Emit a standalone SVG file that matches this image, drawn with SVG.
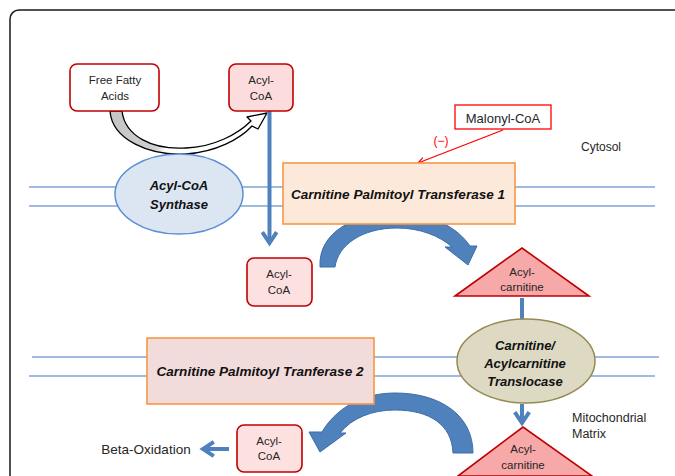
<svg xmlns="http://www.w3.org/2000/svg" width="675" height="476" viewBox="0 0 675 476">
<defs>
<linearGradient id="gw" gradientUnits="userSpaceOnUse" x1="108" y1="0" x2="268" y2="0">
<stop offset="0" stop-color="#c4c4c4"/><stop offset="0.3" stop-color="#d0d0d0"/><stop offset="0.36" stop-color="#ffffff"/><stop offset="1" stop-color="#ffffff"/>
</linearGradient>
<marker id="chev" viewBox="0 0 10 10" refX="7" refY="5" markerWidth="4.5" markerHeight="4.5" orient="auto" markerUnits="strokeWidth">
<polyline points="1,1 7,5 1,9" fill="none" stroke="#4f81bd" stroke-width="2.2"/>
</marker>
<marker id="red" viewBox="0 0 10 10" refX="9" refY="5" markerWidth="8" markerHeight="8" orient="auto" markerUnits="userSpaceOnUse">
<polyline points="1,1 9,5 1,9" fill="none" stroke="#ff0000" stroke-width="1.5"/>
</marker>
</defs>
<style>
text{font-family:"Liberation Sans",Arial,sans-serif;fill:#262626;text-anchor:middle;dominant-baseline:central}
.lbl{font-size:11.5px}
.b{font-weight:bold;font-style:italic;font-size:13px;fill:#111}
.mem{stroke:#7ea3d6;stroke-width:1.6;fill:none}
.box{stroke:#c00000;stroke-width:1.6}
.tri{fill:#f7a8a8;stroke:#c00000;stroke-width:1.6}
.flow{stroke:#4f81bd;stroke-width:4;fill:none}
.blk{fill:#4f81bd;stroke:#3d6da8;stroke-width:1}
</style>
<rect x="10" y="10" width="700" height="500" rx="9" fill="#fff" stroke="#1a1a1a" stroke-width="1.5"/>

<g id="membranes">
<line class="mem" x1="29" y1="187" x2="655" y2="187"/>
<line class="mem" x1="29" y1="206" x2="655" y2="206"/>
<line class="mem" x1="32" y1="357" x2="659" y2="357"/>
<line class="mem" x1="29" y1="376" x2="655" y2="376"/>
</g>

<g id="connectors">
<path d="M110,111 C112,140 150,156 186,154 C216,152 240,139 252,126 L258,129 L267,113 L247,117 L251,121 C238,134 214,147 186,148 C152,150 125,136 122,111 Z" fill="url(#gw)" stroke="#000" stroke-width="1.3" stroke-linejoin="round"/>
<line class="flow" x1="269.5" y1="111" x2="269.5" y2="243" marker-end="url(#chev)"/>
<line x1="503" y1="130" x2="418" y2="163" stroke="#ff0000" stroke-width="1.3" marker-end="url(#red)"/>
<path class="blk" d="M320,267 C318,232 355,213 397,213 C432,213 458,228 470,246 L477,246 L468,265 L445,247 L452,247 C440,236 420,228 397,228 C362,228 338,245 335,267 Z"/>
<line class="flow" x1="522" y1="298" x2="522" y2="328"/>
<line class="flow" x1="522" y1="404" x2="522" y2="423" marker-end="url(#chev)"/>
<path class="blk" d="M473,453 C473,415 440,393 395,393 C360,393 335,410 322,432 L309,432 L320,452 L346,433 L340,433 C352,418 372,410 395,410 C430,410 452,425 453,453 Z"/>
<line class="flow" x1="229" y1="449" x2="203" y2="449" marker-end="url(#chev)"/>
</g>

<g id="ffa">
<rect class="box" x="70" y="64" width="89" height="47" rx="7" fill="#fff"/>
<text class="lbl" x="115" y="80">Free Fatty</text>
<text class="lbl" x="115" y="96">Acids</text>
</g>
<g id="acylcoa1">
<rect class="box" x="229" y="64" width="64" height="47" rx="7" fill="#fcdcdc"/>
<text class="lbl" x="261" y="80">Acyl-</text>
<text class="lbl" x="261" y="96">CoA</text>
</g>
<g id="synthase">
<ellipse cx="179" cy="194" rx="64" ry="40" fill="#dce6f2" stroke="#5b8fd6" stroke-width="1.5"/>
<text class="b" x="179" y="185">Acyl-CoA</text>
<text class="b" x="179" y="204">Synthase</text>
</g>
<g id="cpt1">
<rect x="283" y="163" width="232" height="61" fill="#fde9d9" stroke="#f79646" stroke-width="1.6"/>
<text class="b" x="398" y="194" textLength="214" lengthAdjust="spacingAndGlyphs">Carnitine Palmitoyl Transferase 1</text>
</g>
<g id="malonyl">
<rect x="455" y="105" width="96" height="24" fill="#fff" stroke="#ff0000" stroke-width="1.3"/>
<text x="503" y="118" style="font-size:13px">Malonyl-CoA</text>
<text x="441" y="141" style="font-size:12px;fill:#ff0000">(−)</text>
</g>
<g id="cytosol"><text x="601" y="147" style="font-size:12px">Cytosol</text></g>
<g id="acylcoa2">
<rect class="box" x="247" y="258" width="65" height="48" rx="7" fill="#fde0e0"/>
<text class="lbl" x="279" y="274">Acyl-</text>
<text class="lbl" x="279" y="290">CoA</text>
</g>
<g id="acylcarnitine1">
<polygon class="tri" points="455,296 522,248 589,296"/>
<text class="lbl" x="522" y="272">Acyl-</text>
<text class="lbl" x="522" y="287">carnitine</text>
</g>
<g id="translocase">
<ellipse cx="526" cy="361" rx="69" ry="42" fill="#ddd9c3" stroke="#948a54" stroke-width="1.5"/>
<text class="b" x="525" y="345">Carnitine/</text>
<text class="b" x="525" y="363">Acylcarnitine</text>
<text class="b" x="525" y="381">Translocase</text>
</g>
<g id="cpt2">
<rect x="147" y="338" width="227" height="66" fill="#f2dcdb" stroke="#f79646" stroke-width="1.6"/>
<text class="b" x="260" y="371" textLength="207" lengthAdjust="spacingAndGlyphs">Carnitine Palmitoyl Tranferase 2</text>
</g>
<g id="matrix">
<text x="572" y="418" style="text-anchor:start;font-size:12.5px">Mitochondrial</text>
<text x="572" y="434" style="text-anchor:start;font-size:12.5px">Matrix</text>
</g>
<g id="acylcarnitine2">
<polygon class="tri" points="458,476 523,427 592,476"/>
<text class="lbl" x="523" y="449">Acyl-</text>
<text class="lbl" x="523" y="465">carnitine</text>
</g>
<g id="acylcoa3">
<rect class="box" x="237" y="425" width="65" height="47" rx="7" fill="#fde0e0"/>
<text class="lbl" x="269" y="441">Acyl-</text>
<text class="lbl" x="269" y="456">CoA</text>
</g>
<g id="beta"><text x="146" y="449" style="font-size:13.5px">Beta-Oxidation</text></g>
</svg>
